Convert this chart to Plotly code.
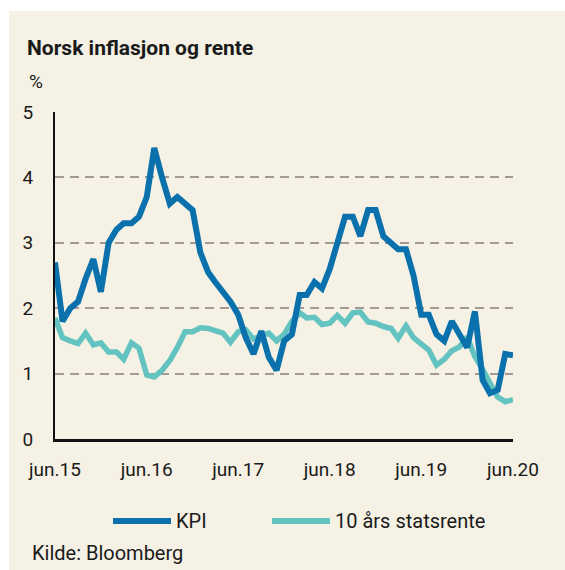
import pandas as pd
import plotly.graph_objects as go

# ---- data ----
months = [d.strftime("%Y-%m-%d") for d in pd.date_range("2015-06-01", "2020-06-01", freq="MS")]
kpi = [2.7, 1.8, 2.0, 2.1, 2.45, 2.75, 2.25, 3.0, 3.2, 3.3,
       3.3, 3.4, 3.7, 4.45, 4.0, 3.6, 3.7, 3.6, 3.5, 2.85,
       2.55, 2.4, 2.25, 2.1, 1.9, 1.55, 1.3, 1.65, 1.25, 1.05,
       1.5, 1.6, 2.2, 2.2, 2.4, 2.3, 2.6, 3.0, 3.4, 3.4,
       3.1, 3.5, 3.5, 3.1, 3.0, 2.9, 2.9, 2.5, 1.9, 1.9,
       1.6, 1.5, 1.8, 1.6, 1.4, 1.95, 0.9, 0.7, 0.75, 1.3,
       1.28]
statsrente = [1.85, 1.55, 1.50, 1.46, 1.62, 1.44, 1.47, 1.33, 1.33, 1.22,
              1.47, 1.39, 0.98, 0.95, 1.05, 1.20, 1.40, 1.64, 1.64, 1.70,
              1.69, 1.66, 1.62, 1.48, 1.64, 1.67, 1.53, 1.58, 1.62, 1.50,
              1.60, 1.80, 1.93, 1.85, 1.86, 1.75, 1.77, 1.89, 1.77, 1.93,
              1.94, 1.79, 1.77, 1.72, 1.69, 1.54, 1.73, 1.55, 1.46, 1.36,
              1.13, 1.22, 1.35, 1.41, 1.56, 1.26, 1.06, 0.86, 0.64, 0.57,
              0.60]
x_tickvals = ["2015-06-01", "2016-06-01", "2017-06-01", "2018-06-01", "2019-06-01", "2020-06-01"]
x_ticktext = ["jun.15", "jun.16", "jun.17", "jun.18", "jun.19", "jun.20"]
y_tickvals = [0, 1, 2, 3, 4, 5]
series_names = ["KPI", "10 års statsrente"]

# ---- style ----
BG = "#f5f1e4"
KPI_COLOR = "#0a71ad"
RATE_COLOR = "#62c3c0"
GRID = "#a39b93"
FONT = "Roboto"
TXT = "#1a1a1a"

W, H = 565, 570
L, R, T, B = 55, 52, 112, 131
pw, ph = W - L - R, H - T - B


def px(x):
    return (x - L) / pw


def py(y):
    return (H - B - y) / ph


fig = go.Figure()
fig.add_trace(go.Scatter(x=months, y=statsrente, mode="lines", name=series_names[1],
                         line=dict(color=RATE_COLOR, width=5.5), showlegend=False))
fig.add_trace(go.Scatter(x=months, y=kpi, mode="lines", name=series_names[0],
                         line=dict(color=KPI_COLOR, width=6), showlegend=False))

fig.update_layout(
    width=W, height=H,
    margin=dict(l=L, r=R, t=T, b=B, pad=0),
    paper_bgcolor=BG, plot_bgcolor=BG,
    font=dict(family=FONT, size=19, color=TXT),
    showlegend=False,
)
fig.update_xaxes(
    type="date", range=["2015-06-01", "2020-06-01"],
    tickvals=x_tickvals, ticktext=x_ticktext,
    showgrid=False, zeroline=False,
    showline=True, linecolor="#111111", linewidth=2.5,
    ticks="", ticklabelstandoff=11,
    tickfont=dict(family=FONT, size=19, color=TXT),
)
fig.update_yaxes(
    range=[0, 5], tickvals=y_tickvals,
    showgrid=True, gridcolor=GRID, gridwidth=2, griddash="9px,6px",
    zeroline=False,
    showline=True, linecolor="#111111", linewidth=2,
    ticks="", ticklabelstandoff=16,
    tickfont=dict(family=FONT, size=19, color=TXT),
)

ann = []
ann.append(dict(text="<b>Norsk inflasjon og rente</b>", x=px(25), y=py(48), xref="paper", yref="paper",
                xanchor="left", yanchor="middle", showarrow=False,
                font=dict(family=FONT, size=21, color=TXT)))
ann.append(dict(text="%", x=px(27), y=py(81), xref="paper", yref="paper",
                xanchor="left", yanchor="middle", showarrow=False,
                font=dict(family=FONT, size=19, color=TXT)))
ann.append(dict(text="Kilde: Bloomberg", x=px(30), y=py(553), xref="paper", yref="paper",
                xanchor="left", yanchor="middle", showarrow=False,
                font=dict(family=FONT, size=20, color=TXT)))
# manual legend
ann.append(dict(text=series_names[0], x=px(174), y=py(521), xref="paper", yref="paper",
                xanchor="left", yanchor="middle", showarrow=False,
                font=dict(family=FONT, size=20, color=TXT)))
ann.append(dict(text=series_names[1], x=px(333), y=py(521), xref="paper", yref="paper",
                xanchor="left", yanchor="middle", showarrow=False,
                font=dict(family=FONT, size=20, color=TXT)))

shapes = [
    dict(type="line", xref="paper", yref="paper", x0=px(113), x1=px(171), y0=py(521), y1=py(521),
         line=dict(color=KPI_COLOR, width=6)),
    dict(type="line", xref="paper", yref="paper", x0=px(272), x1=px(330), y0=py(521), y1=py(521),
         line=dict(color=RATE_COLOR, width=6)),
    # white strips at the top and left edge
    dict(type="rect", xref="paper", yref="paper", x0=px(-5), x1=px(W + 5), y0=py(11), y1=py(-5),
         fillcolor="white", line=dict(width=0), layer="above"),
    dict(type="rect", xref="paper", yref="paper", x0=px(-5), x1=px(9), y0=py(H + 5), y1=py(-5),
         fillcolor="white", line=dict(width=0), layer="above"),
]
fig.update_layout(annotations=ann, shapes=shapes)

fig.write_html(
    "out.html",
    config={"displayModeBar": False},
    post_script="document.body.style.margin='0';document.documentElement.style.overflow='hidden';",
)
